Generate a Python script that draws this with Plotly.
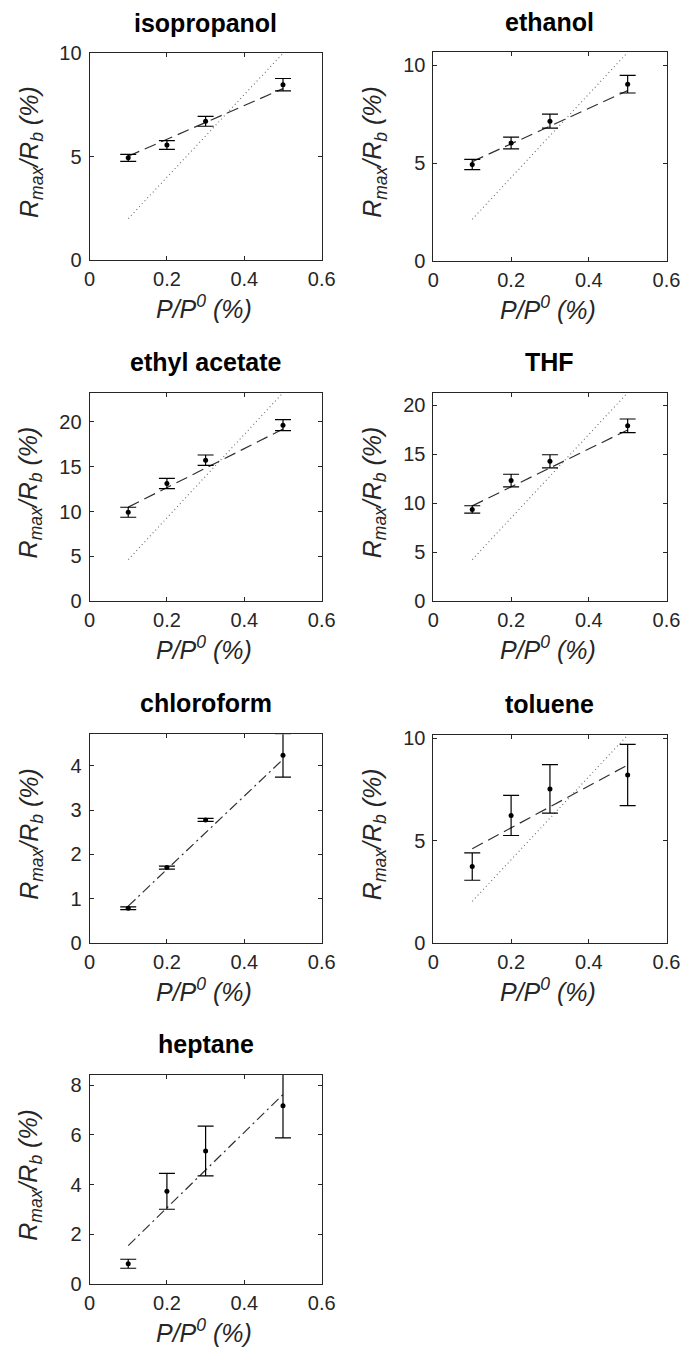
import plotly.graph_objects as go

W, H = 698, 1366

# ---------------- data ----------------
x_vals = [0.1, 0.2, 0.3, 0.5]
fit_x = [0.1, 0.5]
x_ticks = [0, 0.2, 0.4, 0.6]
x_ticktext = ["0", "0.2", "0.4", "0.6"]

titles = ["isopropanol", "ethanol", "ethyl acetate", "THF", "chloroform", "toluene", "heptane"]

iso_y = [4.94, 5.56, 6.71, 8.48]
iso_err = [0.17, 0.21, 0.24, 0.30]
iso_fit = [5.02, 8.29]
iso_dot = [2.0, 10.0]

eth_y = [4.93, 6.03, 7.15, 9.04]
eth_err = [0.26, 0.30, 0.36, 0.45]
eth_fit = [5.08, 8.71]
eth_dot = [2.13, 10.67]

ea_y = [9.93, 13.14, 15.73, 19.64]
ea_err = [0.56, 0.57, 0.58, 0.62]
ea_fit = [10.5, 19.2]
ea_dot = [4.65, 23.25]

thf_y = [9.38, 12.33, 14.30, 17.92]
thf_err = [0.38, 0.65, 0.67, 0.70]
thf_fit = [9.75, 17.5]
thf_dot = [4.26, 21.3]

chl_y = [0.78, 1.70, 2.78, 4.24]
chl_err = [0.03, 0.035, 0.035, 0.49]
chl_fit = [0.83, 4.15]

tol_y = [3.73, 6.23, 7.53, 8.21]
tol_err = [0.67, 0.98, 1.19, 1.50]
tol_fit = [4.6, 8.7]
tol_dot = [2.03, 10.16]

hep_y = [0.82, 3.73, 5.35, 7.17]
hep_err = [0.18, 0.72, 1.00, 1.29]
hep_fit = [1.55, 7.62]

y_max = [10.0, 10.67, 23.25, 21.3, 4.72, 10.16, 8.42]
y_dtick = [5, 5, 5, 5, 1, 5, 2]

series = [
    (iso_y, iso_err, iso_fit, iso_dot),
    (eth_y, eth_err, eth_fit, eth_dot),
    (ea_y, ea_err, ea_fit, ea_dot),
    (thf_y, thf_err, thf_fit, thf_dot),
    (chl_y, chl_err, chl_fit, None),
    (tol_y, tol_err, tol_fit, tol_dot),
    (hep_y, hep_err, hep_fit, None),
]

# ---------------- layout (pixel boxes: left, right, top, bottom) ----------------
boxes = [
    (86, 325, 43, 253),
    (440, 680, 42, 254),
    (86, 325, 388, 600),
    (440, 680, 388, 600),
    (86, 325, 735, 947),
    (440, 680, 736, 947),
    (86, 325, 1081, 1294),
]

AX = "#262626"
FONT = "Liberation Sans, Arial, sans-serif"

fig = go.Figure()
layout = dict(
    width=W, height=H,
    margin=dict(l=0, r=0, t=0, b=0),
    paper_bgcolor="white", plot_bgcolor="white",
    showlegend=False,
    font=dict(family=FONT, color=AX),
)
annotations = []

for i, ((y, err, fit, dot), box, title, ymx, dt) in enumerate(zip(series, boxes, titles, y_max, y_dtick)):
    n = i + 1
    xa = "x" if n == 1 else f"x{n}"
    ya = "y" if n == 1 else f"y{n}"
    L, R, T, B = box
    fit_dash = "12px,6px" if dot is not None else "10px,4px,2px,4px"
    fig.add_trace(go.Scatter(
        x=fit_x, y=fit, mode="lines", xaxis=xa, yaxis=ya,
        line=dict(color="#303030", width=1.2, dash=fit_dash),
        hoverinfo="skip"))
    if dot is not None:
        fig.add_trace(go.Scatter(
            x=fit_x, y=dot, mode="lines", xaxis=xa, yaxis=ya,
            line=dict(color="#6a6a6a", width=1.1, dash="1px,3px"),
            hoverinfo="skip"))
    fig.add_trace(go.Scatter(
        x=x_vals, y=y, mode="markers", xaxis=xa, yaxis=ya,
        marker=dict(color="black", size=5),
        error_y=dict(type="data", array=err, color="black", thickness=1.2, width=8),
        cliponaxis=True))

    axcommon = dict(
        showline=True, linecolor=AX, linewidth=1, mirror="ticks",
        ticks="inside", ticklen=4, tickcolor=AX, tickwidth=1,
        showgrid=False, zeroline=False,
        tickfont=dict(family=FONT, size=20, color=AX),
    )
    layout["xaxis" if n == 1 else f"xaxis{n}"] = dict(
        axcommon, domain=[L / W, R / W], range=[0, 0.6],
        tickvals=x_ticks, ticktext=x_ticktext,
        anchor=ya, ticklabelstandoff=1)
    layout["yaxis" if n == 1 else f"yaxis{n}"] = dict(
        axcommon, domain=[1 - B / H, 1 - T / H], range=[0, ymx],
        tick0=0, dtick=dt, anchor=xa, ticklabelstandoff=3)

    cx = (L + R) / 2
    # subplot title
    annotations.append(dict(
        text=f"<b>{title}</b>", xref="paper", yref="paper",
        x=cx / W, y=1 - (T - 15) / H, xanchor="center", yanchor="bottom",
        showarrow=False, font=dict(family=FONT, size=25, color="black")))
    # x axis title
    annotations.append(dict(
        text="<i>P/P<sup>0</sup> (%)</i>", xref="paper", yref="paper",
        x=(cx - 2) / W, y=1 - (B + 66) / H, xanchor="center", yanchor="bottom",
        showarrow=False, font=dict(family=FONT, size=25, color=AX)))
    # y axis title
    annotations.append(dict(
        text="<i>R<sub>max</sub>/R<sub>b</sub> (%)</i>", xref="paper", yref="paper",
        x=(L - 61) / W, y=1 - ((T + B) / 2 - 5) / H, xanchor="center", yanchor="middle",
        textangle=-90,
        showarrow=False, font=dict(family=FONT, size=25, color=AX)))

layout["annotations"] = annotations
fig.update_layout(**layout)
fig.write_html("out.html")
